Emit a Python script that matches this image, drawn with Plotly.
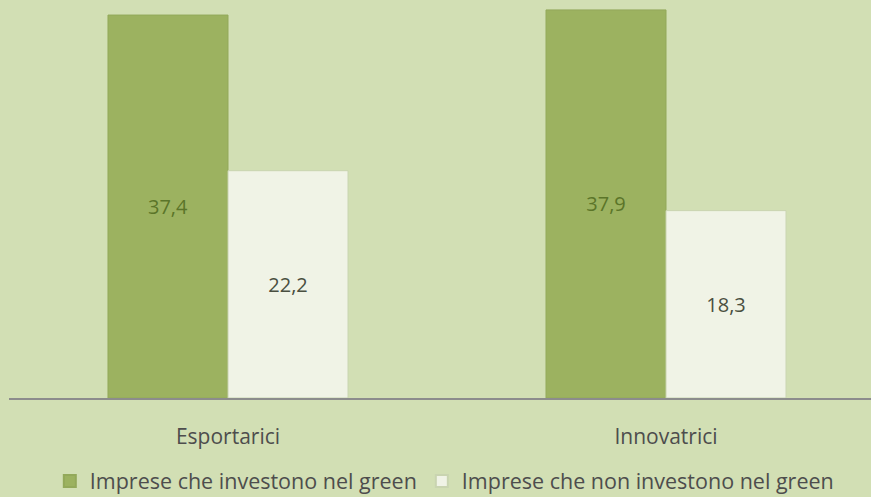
import plotly.graph_objects as go

categories = ["Esportarici", "Innovatrici"]
series_names = ["Imprese che investono nel green", "Imprese che non investono nel green"]
green_values = [37.4, 37.9]
nongreen_values = [22.2, 18.3]

def fmt(v):
    return f"{v:.1f}".replace(".", ",")

BG = "#d2dfb4"
FONT = "Open Sans"

fig = go.Figure()
fig.add_trace(go.Bar(
    name=series_names[0], x=categories, y=green_values,
    text=[fmt(v) for v in green_values], textposition="inside",
    insidetextanchor="middle",
    textfont=dict(family=FONT, size=20, color="#5b7529"),
    marker=dict(color="#9cb260", line=dict(color="#93a95a", width=1)),
))
fig.add_trace(go.Bar(
    name=series_names[1], x=categories, y=nongreen_values,
    text=[fmt(v) for v in nongreen_values], textposition="inside",
    insidetextanchor="middle",
    textfont=dict(family=FONT, size=20, color="#4a4f40"),
    marker=dict(color="#f0f3e6", line=dict(color="#c9d4b0", width=1)),
))

fig.update_layout(
    width=871, height=497,
    paper_bgcolor=BG, plot_bgcolor=BG,
    margin=dict(l=9, r=0, t=0, b=99, autoexpand=False),
    barmode="group", bargap=0.452, bargroupgap=0,
    showlegend=True,
    legend=dict(orientation="h", x=0.505, xanchor="center",
                yref="container", y=0.032, yanchor="middle",
                font=dict(family=FONT, size=21.5, color="#4d4d4d"),
                itemsizing="constant", traceorder="normal", itemwidth=30,
                bgcolor="rgba(0,0,0,0)"),
    font=dict(family=FONT, color="#4d4d4d"),
)
fig.update_xaxes(range=[-0.5, 1.468], showline=True, linecolor="#8c8c8c", linewidth=1.5,
                 ticks="", tickfont=dict(family=FONT, size=21, color="#4d4d4d"),
                 ticklabelstandoff=19, showgrid=False, zeroline=False)
fig.update_yaxes(range=[0, 38.87], visible=False, showgrid=False, zeroline=False)

fig.write_html("out.html", config={"displayModeBar": False},
               post_script="document.body.style.margin='0';document.body.style.overflow='hidden';")
